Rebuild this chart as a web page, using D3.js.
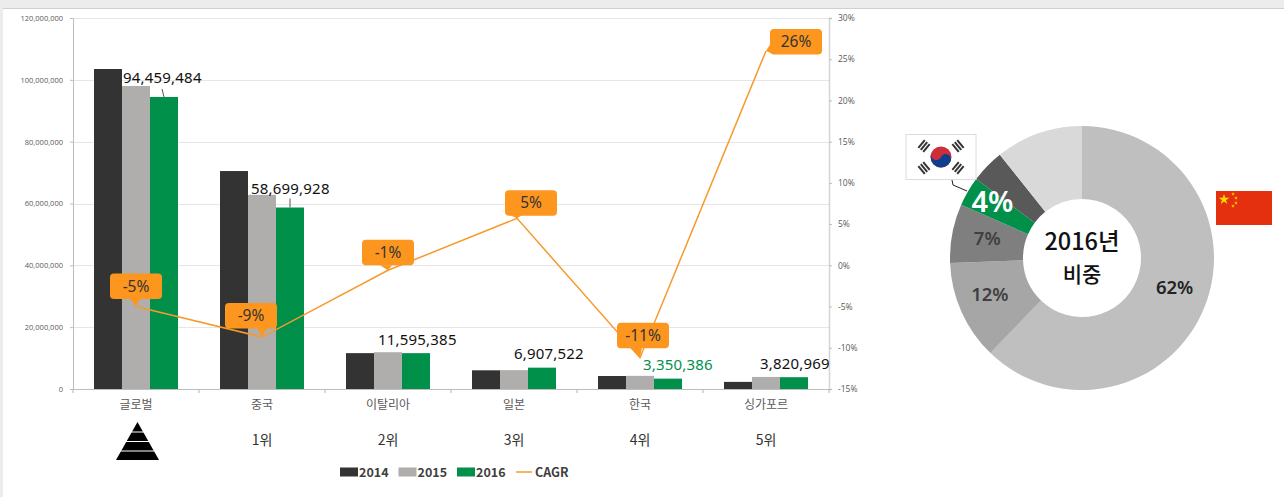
<!DOCTYPE html>
<html>
<head>
<meta charset="utf-8">
<script src="https://cdn.jsdelivr.net/npm/d3@7"></script>
<style>
  html, body { margin: 0; padding: 0; background: #fff; overflow: hidden; }
  text { font-family: "Noto Sans CJK KR", "Noto Sans", sans-serif; }
</style>
</head>
<body>
<div id="graph"></div>
<script>
var categories = ['글로벌', '중국', '이탈리아', '일본', '한국', '싱가포르'];
var ranks = ['', '1위', '2위', '3위', '4위', '5위'];
var years = ['2014', '2015', '2016'];
var values2014 = [103500000, 70500000, 11600000, 6050000, 4200000, 2300000];
var values2015 = [98000000, 62800000, 11900000, 6100000, 4250000, 3900000];
var values2016 = [94459484, 58699928, 11595385, 6907522, 3350386, 3820969];
var cagr = [-5, -8.7, -0.6, 5.7, -11.2, 26];
var cagrLabels = ['-5%', '-9%', '-1%', '5%', '-11%', '26%'];
var leftTicks = [0, 20000000, 40000000, 60000000, 80000000, 100000000, 120000000];
var rightTicks = [-15, -10, -5, 0, 5, 10, 15, 20, 25, 30];
var shareValues = [62.2, 12.2, 7.2, 3.6, 4.1, 10.7];
var shareLabels = ['62%', '12%', '7%', '4%', '', ''];

var colors = { '2014': '#333333', '2015': '#b0adad', '2016': '#00904a', line: '#f79a2c' };
var shareColors = ['#bfbfbf', '#a6a6a6', '#7f7f7f', '#00904a', '#595959', '#d9d9d9'];

var margin = {top: 18, right: 455, bottom: 108, left: 73};
var W = 1284, H = 497;

var svg = d3.select('#graph').append('svg').attr('width', W).attr('height', H).style('display', 'block');

// grey frame of the screenshot
svg.append('rect').attr('width', W).attr('height', 8).attr('fill', '#ececec');
svg.append('rect').attr('width', 3).attr('height', H).attr('fill', '#ececec');
svg.append('line').attr('x1', 3).attr('x2', W).attr('y1', 8.5).attr('y2', 8.5).attr('stroke', '#cfcfcf');

var x0 = d3.scaleBand().domain(categories).range([margin.left, W - margin.right]);
var x1 = d3.scaleBand().domain(years).range([21, 105]);
var y = d3.scaleLinear().domain([0, 120000000]).range([H - margin.bottom, margin.top]);
var yR = d3.scaleLinear().domain([-15, 30]).range([H - margin.bottom, margin.top]);

// gridlines
svg.append('g').selectAll('line').data(leftTicks.slice(1)).enter().append('line')
  .attr('x1', margin.left).attr('x2', W - margin.right)
  .attr('y1', function(d) { return Math.round(y(d)) + 0.5; })
  .attr('y2', function(d) { return Math.round(y(d)) + 0.5; })
  .attr('stroke', '#e6e6e6');

// axes
var axL = svg.append('g').attr('transform', 'translate(' + margin.left + ',0)')
  .call(d3.axisLeft(y).tickValues(leftTicks).tickFormat(d3.format(',')).tickSize(3).tickPadding(7));
var axR = svg.append('g').attr('transform', 'translate(' + (W - margin.right) + ',0)')
  .call(d3.axisRight(yR).tickValues(rightTicks).tickFormat(function(d) { return d + '%'; }).tickSize(3).tickPadding(6));
var axB = svg.append('g').attr('transform', 'translate(0,' + (H - margin.bottom) + ')')
  .call(d3.axisBottom(x0).tickValues([]).tickSize(0));
axB.selectAll('.sep').data(d3.range(categories.length + 1)).enter().append('line')
  .attr('x1', function(i) { return margin.left + i * x0.bandwidth(); })
  .attr('x2', function(i) { return margin.left + i * x0.bandwidth(); })
  .attr('y1', 0).attr('y2', 4).attr('stroke', '#b5b5b5');
[axL, axR, axB].forEach(function(a) {
  a.selectAll('.domain').attr('stroke', '#bdbdbd');
  a.selectAll('.tick line').attr('stroke', '#bdbdbd');
  a.selectAll('text').attr('fill', '#595959').style('font-family', '"Open Sans", sans-serif');
});
axL.selectAll('text').style('font-size', '7.5px');
axR.selectAll('text').style('font-size', '8.5px');
axR.select('.domain').attr('stroke', '#d4d4d4').attr('stroke-width', 1.5);

// bars
var series = [values2014, values2015, values2016];
years.forEach(function(yr, s) {
  svg.append('g').selectAll('rect').data(series[s]).enter().append('rect')
    .attr('x', function(d, i) { return x0(categories[i]) + x1(yr); })
    .attr('width', x1.bandwidth())
    .attr('y', function(d) { return y(d); })
    .attr('height', function(d) { return y(0) - y(d); })
    .attr('fill', colors[yr]);
});

// 2016 value labels, offsets are from the band start and bar top
var labelOffsets = [[50, -14], [52, -14], [53, -8], [63, -9], [66, -9], [57, -8]];
svg.append('g').selectAll('text').data(values2016).enter().append('text')
  .attr('x', function(d, i) { return x0(categories[i]) + labelOffsets[i][0]; })
  .attr('y', function(d, i) { return y(d) + labelOffsets[i][1]; })
  .attr('fill', function(d, i) { return i == 4 ? '#00904a' : '#111'; })
  .style('font-family', '"Noto Sans", sans-serif')
  .style('font-size', '15px')
  .style('letter-spacing', '0.2px')
  .text(d3.format(','));

// leader lines of the two biggest labels
svg.append('path').attr('d', 'M' + (x0(categories[0]) + 89) + ',' + (y(values2016[0]) - 8) + 'l2,8').attr('stroke', '#555').attr('fill', 'none');
svg.append('path').attr('d', 'M' + (x0(categories[1]) + 91) + ',' + (y(values2016[1]) - 9) + 'v9').attr('stroke', '#555').attr('fill', 'none');

// category and rank rows
svg.append('g').selectAll('text').data(categories).enter().append('text')
  .attr('x', function(d) { return x0(d) + x0.bandwidth() / 2; })
  .attr('y', 409).attr('text-anchor', 'middle').attr('fill', '#595959')
  .style('font-size', '12px').text(function(d) { return d; });
svg.append('g').selectAll('text').data(ranks).enter().append('text')
  .attr('x', function(d, i) { return x0(categories[i]) + x0.bandwidth() / 2; })
  .attr('y', 445).attr('text-anchor', 'middle').attr('fill', '#333')
  .style('font-size', '14px').text(function(d) { return d; });

// pyramid icon under the first category
var pyr = svg.append('g');
pyr.append('path').attr('d', 'M137.5,422L159,460H116Z').attr('fill', '#000');
[432, 441.5, 451].forEach(function(yy) {
  pyr.append('line').attr('x1', 116).attr('x2', 159).attr('y1', yy).attr('y2', yy).attr('stroke', '#fff').attr('stroke-width', 1.2);
});

// CAGR line
var line = d3.line()
  .x(function(d, i) { return x0(categories[i]) + x0.bandwidth() / 2 + (i == 3 ? 3 : 0); })
  .y(function(d) { return yR(d); });
svg.append('path').datum(cagr).attr('d', line).attr('fill', 'none').attr('stroke', colors.line).attr('stroke-width', 1.5);

// callouts: box left/top offset from the point, tip base along the box edge
var callouts = [
  {dx: -26, dy: -33, base: [[-6, -8], [4, -8]]},
  {dx: -37, dy: -34, base: [[-5, -9], [5, -9]]},
  {dx: -26, dy: -30.5, base: [[-8, -5], [4, -5]]},
  {dx: -12, dy: -28, base: [[-7, -3], [5, -3]]},
  {dx: -23, dy: -35, base: [[-10, -10], [2, -10]]},
  {dx: 4, dy: -22, base: [[5, -8], [5, 2]]}
];
var boxW = 52, boxH = 25.5;
var cg = svg.append('g').selectAll('g').data(cagr).enter().append('g')
  .attr('transform', function(d, i) { return 'translate(' + line.x()(d, i) + ',' + yR(d) + ')'; });
cg.append('rect')
  .attr('x', function(d, i) { return callouts[i].dx; })
  .attr('y', function(d, i) { return callouts[i].dy; })
  .attr('width', boxW).attr('height', boxH).attr('rx', 4)
  .attr('fill', '#fd961f');
cg.append('path')
  .attr('d', function(d, i) { var b = callouts[i].base; return 'M' + b[0] + 'L0,0L' + b[1] + 'Z'; })
  .attr('fill', '#fd961f');
cg.append('text')
  .attr('x', function(d, i) { return callouts[i].dx + boxW / 2; })
  .attr('y', function(d, i) { return callouts[i].dy + 18; })
  .attr('text-anchor', 'middle').attr('fill', '#333')
  .style('font-family', '"Noto Sans", sans-serif')
  .style('font-size', '15.5px')
  .text(function(d, i) { return cagrLabels[i]; });

// legend
var legend = svg.append('g').attr('transform', 'translate(340,472)');
years.forEach(function(yr, i) {
  legend.append('rect').attr('x', i * 58.5).attr('y', -4.5).attr('width', 18).attr('height', 9).attr('fill', colors[yr]);
  legend.append('text').attr('x', i * 58.5 + 19).attr('y', 4.5).attr('fill', '#404040')
    .style('font-size', '12.5px').style('font-weight', 700).text(yr);
});
legend.append('line').attr('x1', 176).attr('x2', 192).attr('y1', 0).attr('y2', 0).attr('stroke', colors.line).attr('stroke-width', 1.5);
legend.append('text').attr('x', 195).attr('y', 4.5).attr('fill', '#404040')
  .style('font-size', '12.5px').style('font-weight', 700).text('CAGR');

// donut
var cx = 1082, cy = 258;
var pie = d3.pie().sort(null)(shareValues);
var arc = d3.arc().innerRadius(59).outerRadius(132);
var donut = svg.append('g').attr('transform', 'translate(' + cx + ',' + cy + ')');
donut.selectAll('path').data(pie).enter().append('path')
  .attr('d', arc)
  .attr('fill', function(d, i) { return shareColors[i]; });

var shareFont = [18.5, 18.5, 18.5, 29, 16, 16];
var shareFill = ['#222', '#404040', '#404040', '#fff', '#fff', '#fff'];
var shareNudge = [[4, -6], [-5, -3], [-1, -2], [-7, -8], [0, 0], [0, 0]];
donut.selectAll('text').data(pie).enter().append('text')
  .attr('x', function(d, i) { return arc.centroid(d)[0] + shareNudge[i][0]; })
  .attr('y', function(d, i) { return arc.centroid(d)[1] + shareNudge[i][1]; })
  .attr('dy', '0.36em').attr('text-anchor', 'middle')
  .attr('fill', function(d, i) { return shareFill[i]; })
  .style('font-family', '"Noto Sans", sans-serif')
  .style('font-weight', 600)
  .style('font-size', function(d, i) { return shareFont[i] + 'px'; })
  .text(function(d, i) { return shareLabels[i]; });

donut.append('text').attr('y', -8).attr('text-anchor', 'middle').attr('fill', '#111').style('font-weight', 500)
  .style('font-size', '23.5px').text('2016년');
donut.append('text').attr('y', 23.5).attr('text-anchor', 'middle').attr('fill', '#111').style('font-weight', 500)
  .style('font-size', '21px').text('비중');

// korean flag and its leader
svg.append('path').attr('d', 'M952,180l1,5l14,6').attr('fill', 'none').attr('stroke', '#222');
var kr = svg.append('g').attr('transform', 'translate(941,157)');
kr.append('rect').attr('x', -35).attr('y', -22.5).attr('width', 70).attr('height', 45).attr('fill', '#fff').attr('stroke', '#dcdcdc');
kr.append('circle').attr('r', 10.5).attr('fill', '#cd2e3a');
kr.append('path').attr('d', 'M-10.5,0A5.25,5.25 0 0 0 0,0A5.25,5.25 0 0 1 10.5,0A10.5,10.5 0 0 1 -10.5,0Z')
  .attr('transform', 'rotate(25)').attr('fill', '#0f3f8c');
[[-17, -11, -50], [17, -11, 50], [-17, 11, 50], [17, 11, -50]].forEach(function(t) {
  var g = kr.append('g').attr('transform', 'translate(' + t[0] + ',' + t[1] + ') rotate(' + t[2] + ')');
  [-3.2, 0, 3.2].forEach(function(v) {
    g.append('rect').attr('x', -5).attr('y', v - 1).attr('width', 10).attr('height', 2).attr('fill', '#333');
  });
});

// chinese flag
var cn = svg.append('g').attr('transform', 'translate(1216,191)');
cn.append('rect').attr('width', 56).attr('height', 34).attr('fill', '#e5300f');
cn.append('path').attr('d', d3.symbol(d3.symbolStar, 34)).attr('transform', 'translate(8,8.5)').attr('fill', '#ffde00');
[[17, 3], [20, 7], [20, 12], [17, 15]].forEach(function(p) {
  cn.append('path').attr('d', d3.symbol(d3.symbolStar, 4)).attr('transform', 'translate(' + p[0] + ',' + p[1] + ')').attr('fill', '#ffde00');
});
</script>
</body>
</html>
